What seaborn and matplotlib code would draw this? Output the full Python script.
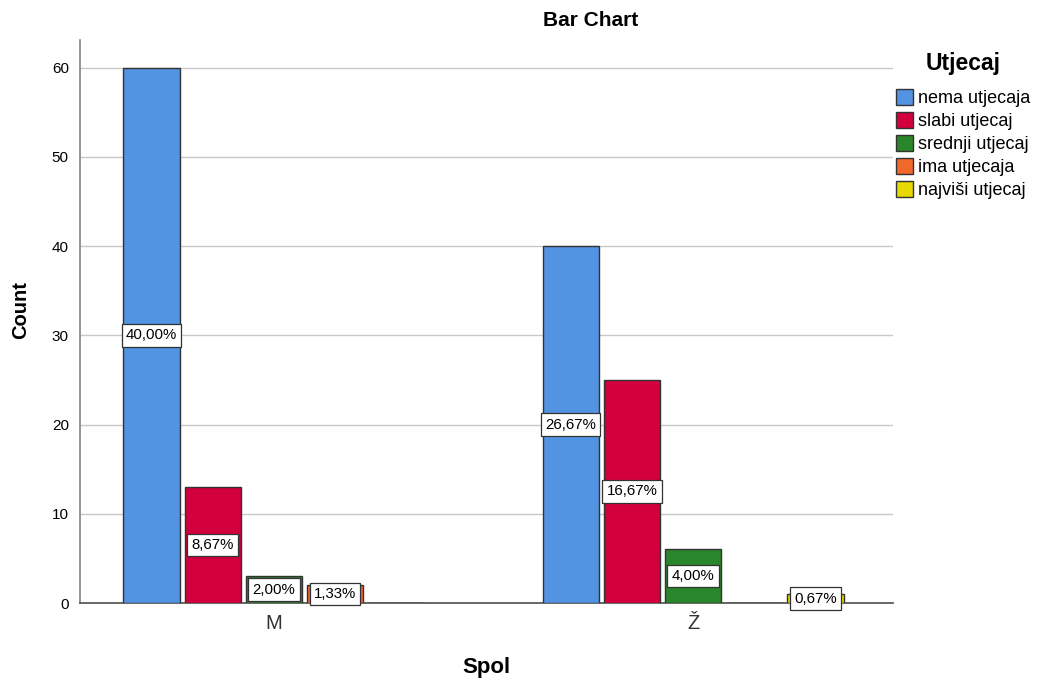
import seaborn as sns
import matplotlib.pyplot as plt
import pandas as pd

# data
spol = ["M", "Ž"]
utjecaj = ["nema utjecaja", "slabi utjecaj", "srednji utjecaj", "ima utjecaja", "najviši utjecaj"]
count_m = [60, 13, 3, 2, 0]
count_z = [40, 25, 6, 0, 1]
boje = ["#5294E2", "#D2003C", "#2A862A", "#F0682A", "#E6D800"]

rows = []
for s, vals in zip(spol, [count_m, count_z]):
    for u, v in zip(utjecaj, vals):
        rows.append({"Spol": s, "Utjecaj": u, "Count": v})
df = pd.DataFrame(rows)
ukupno = df["Count"].sum()

sns.set_theme(style="white")
plt.rcParams["font.family"] = ["Liberation Sans", "DejaVu Sans"]
plt.rcParams["text.color"] = "black"
plt.rcParams["axes.labelcolor"] = "black"
plt.rcParams["ytick.color"] = "black"

fig = plt.figure(figsize=(10.37, 6.84), dpi=100)
ax = fig.add_axes([0.0771, 0.1184, 0.7840, 0.8231])

p = sns.barplot(data=df, x="Spol", y="Count", hue="Utjecaj", hue_order=utjecaj,
                palette=boje, width=0.73, gap=0.08, edgecolor="#333333",
                linewidth=1.0, saturation=1, ax=ax, zorder=3)

# percentage labels
for cont in ax.containers:
    for bar in cont:
        h = bar.get_height()
        if h <= 0:
            continue
        txt = f"{h / ukupno * 100:.2f}%".replace(".", ",")
        ax.text(bar.get_x() + bar.get_width() / 2, h / 2, txt, ha="center", va="center",
                fontsize=10.8, color="black", zorder=5,
                bbox=dict(boxstyle="square,pad=0.28", fc="white", ec="#333333", lw=0.9))

ax.set_ylim(0, 63.1)
ax.set_xlim(-0.463, 1.477)
ax.set_yticks(range(0, 61, 10))
ax.yaxis.grid(True, color="#c8c8c8", lw=1.0, zorder=0)
ax.set_axisbelow(True)
for s in ["top", "right"]:
    ax.spines[s].set_visible(False)
ax.spines["left"].set_color("#888888")
ax.spines["bottom"].set_color("#555555")
ax.tick_params(axis="y", labelsize=11, length=0, pad=8)
ax.tick_params(axis="x", labelsize=14.5, length=0, pad=8, labelcolor="#333333")

ax.text(0.6285, 1.0355, "Bar Chart", transform=ax.transAxes, ha="center", va="center",
        fontsize=15, fontweight="bold")
ax.set_ylabel("Count", fontsize=14.5, fontweight="bold", va="center")
ax.yaxis.set_label_coords(-0.0726, 0.52)
ax.set_xlabel("Spol", fontsize=16, fontweight="bold", va="center")
ax.xaxis.set_label_coords(0.5, -0.115)

leg = ax.legend(title="Utjecaj", loc="upper left", bbox_to_anchor=(1.0037, 0.978),
                frameon=False, fontsize=13, title_fontproperties={"weight": "bold", "size": 16.5},
                handlelength=0.95, handleheight=0.95, handletextpad=0.25, labelspacing=0.28,
                borderaxespad=0, borderpad=0)
leg._legend_box.sep = 10
for h in leg.legend_handles:
    h.set_edgecolor("#333333")

fig.savefig("out.png", dpi=100)
